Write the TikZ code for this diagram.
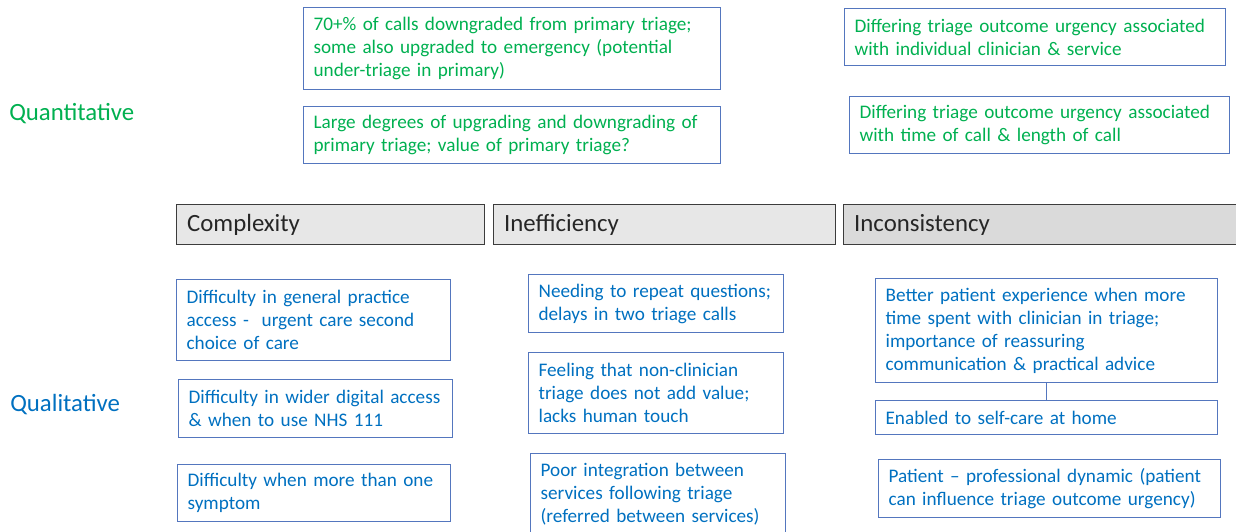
\documentclass[tikz,border=0pt]{standalone}
\usepackage{fontspec}
\setmainfont{Carlito}
\usetikzlibrary{positioning}
\definecolor{QuantGreen}{RGB}{0, 176, 80}
\definecolor{QualBlue}{RGB}{0, 112, 192}
\definecolor{BoxLine}{RGB}{84, 118, 190}
\definecolor{HeadFill}{RGB}{231, 231, 231}
\definecolor{HeadFillDark}{RGB}{218, 218, 218}
\definecolor{HeadLine}{RGB}{60, 60, 60}

\tikzset{
  finding/.style 2 args={draw=BoxLine, line width=0.9pt, anchor=north west,
    minimum width=#1*0.75pt, minimum height=#2*0.75pt,
    text width=#1*0.75pt-15pt, inner xsep=7.5pt, inner ysep=0pt, align=left,
    font=\fontsize{14.4}{17.25}\selectfont},
  theme/.style={draw=HeadLine, fill=HeadFill, line width=0.8pt, anchor=north west,
    minimum width=#1*0.75pt, minimum height=30pt,
    text width=#1*0.75pt-16pt, inner xsep=8pt, inner ysep=0pt, align=left,
    font=\fontsize{18.6}{22}\selectfont, text=black!85},
  rowlabel/.style={anchor=west, inner sep=0pt, font=\fontsize{18.6}{22}\selectfont}
}

\begin{document}
\begin{tikzpicture}[x=0.75pt, y=-0.75pt]
        \useasboundingbox (0,0) rectangle (1236,532);

        % Row labels
        \node[rowlabel, text=QuantGreen] (quant) at (9,114) {Quantitative};
        \node[rowlabel, text=QualBlue] (qual) at (10,405) {Qualitative};

        % Quantitative findings
        \node[finding={417}{82}, text=QuantGreen] (downgraded) at (303,7)
          {70+\% of calls downgraded from primary triage;\\ some also upgraded to emergency (potential\\ under-triage in primary)};
        \node[finding={417}{57}, text=QuantGreen] (upgrading) at (303,106)
          {Large degrees of upgrading and downgrading of\\ primary triage; value of primary triage?};
        \node[finding={381}{57}, text=QuantGreen] (clinician) at (844,8)
          {Differing triage outcome urgency associated\\ with individual clinician \& service};
        \node[finding={380}{57}, text=QuantGreen] (calltime) at (849,96)
          {Differing triage outcome urgency associated\\ with time of call \& length of call};

        % Themes
        \node[theme={308}] (complexity) at (176,204) {Complexity};
        \node[theme={342}] (inefficiency) at (493,204) {Inefficiency};
        \node[theme={400}, fill=HeadFillDark] (inconsistency) at (843,204) {Inconsistency};

        % Complexity
        \node[finding={274}{81}, text=QualBlue] (gpaccess) at (176,279)
          {Difficulty in general practice\\ access -\ \ urgent care second\\ choice of care};
        \node[finding={274}{58}, text=QualBlue] (digital) at (178,379)
          {Difficulty in wider digital access\\ \& when to use NHS 111};
        \node[finding={273}{57}, text=QualBlue] (symptom) at (177,464)
          {Difficulty when more than one\\ symptom};

        % Inefficiency
        \node[finding={255}{58}, text=QualBlue] (repeat) at (528,274)
          {Needing to repeat questions;\\ delays in two triage calls};
        \node[finding={255}{81}, text=QualBlue] (nonclin) at (528,352)
          {Feeling that non-clinician\\ triage does not add value;\\ lacks human touch};
        \node[finding={255}{82}, text=QualBlue] (integration) at (530,453)
          {Poor integration between\\ services following triage\\ (referred between services)};

        % Inconsistency
        \node[finding={342}{104}, text=QualBlue] (betterexp) at (875,278)
          {Better patient experience when more\\ time spent with clinician in triage;\\ importance of reassuring\\ communication \& practical advice};
        \node[finding={342}{34}, text=QualBlue] (selfcare) at (875,400)
          {Enabled to self-care at home};
        \node[finding={342}{58}, text=QualBlue] (dynamic) at (878,459)
          {Patient – professional dynamic (patient\\ can influence triage outcome urgency)};

        \draw[BoxLine, line width=0.9pt] (betterexp.south) -- (selfcare.north);
    \end{tikzpicture}
\end{document}
